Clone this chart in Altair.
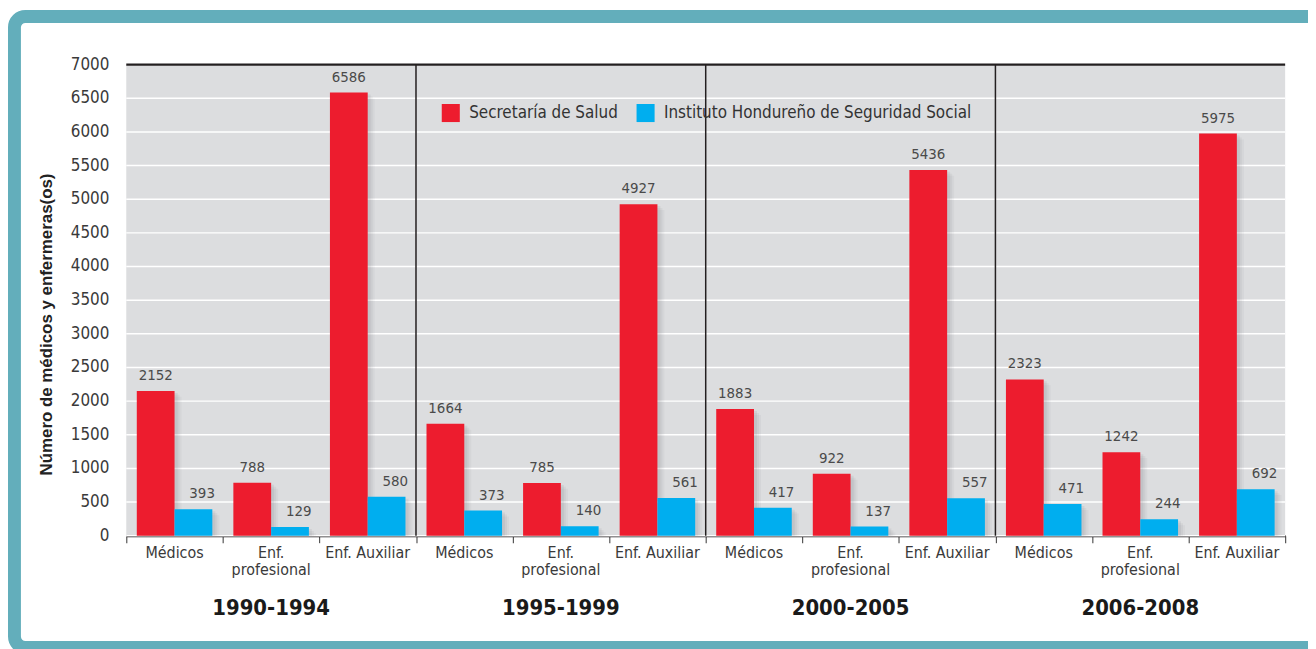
import altair as alt
import pandas as pd

periods = ["1990-1994", "1995-1999", "2000-2005", "2006-2008"]
categories = ["Médicos", "Enf.\nprofesional", "Enf. Auxiliar"]
series = ["Secretaría de Salud", "Instituto Hondureño de Seguridad Social"]
secretaria = [2152, 788, 6586, 1664, 785, 4927, 1883, 922, 5436, 2323, 1242, 5975]
ihss = [393, 129, 580, 373, 140, 561, 417, 137, 557, 471, 244, 692]
y_ticks = list(range(0, 7001, 500))

RED = "#ED1C2E"
BLUE = "#00AEEF"
TEAL = "#63AEBB"
PLOT_BG = "#DCDDDF"
FONT = "Liberation Sans Narrow, DejaVu Sans Condensed, Liberation Sans, sans-serif"
BOLD_FONT = "Liberation Sans, Open Sans, sans-serif"

W, H = 1166, 474
BAR_W = 38 / (W / 12)

rows = []
for i in range(12):
    c = i + 0.5
    rows.append({"serie": series[0], "x0": c - BAR_W, "x1": c, "lx": c - BAR_W / 2,
                 "value": secretaria[i]})
    rows.append({"serie": series[1], "x0": c, "x1": c + BAR_W, "lx": c + BAR_W / 2 + 0.09,
                 "value": ihss[i]})
df = pd.DataFrame(rows)

cat_df = pd.DataFrame({"pos": [i + 0.5 for i in range(12)],
                       "label": [categories[i % 3] for i in range(12)]})
per_df = pd.DataFrame({"pos": [3 * j + 1.5 for j in range(4)], "label": periods})
sep_df = pd.DataFrame({"pos": [3, 6, 9]})
top_df = pd.DataFrame({"v": [7000]})
tick_df = pd.DataFrame({"tick": y_ticks, "txt": [str(t) for t in y_ticks]})

xscale = alt.Scale(domain=[0, 12], nice=False, zero=False)
yscale = alt.Scale(domain=[0, 7000], nice=False)

XAXIS = alt.Axis(values=list(range(13)), labels=False, title=None,
                 grid=False, domainColor="#231F20", domainWidth=2, tickColor="#555",
                 tickSize=7, tickWidth=1.2)
YAXIS = alt.Axis(domain=False, ticks=False, labels=False, grid=False,
                 title="Número de médicos y enfermeras(os)",
                 titleFont=BOLD_FONT, titleFontSize=17, titleFontWeight="bold",
                 titleColor="#222", titleAngle=270, titleX=-80, titleY=261,
                 titleAlign="center", titleBaseline="middle")


def X(field):
    return alt.X(field, scale=xscale, axis=XAXIS)


def Y(field):
    return alt.Y(field, scale=yscale, axis=YAXIS)


grid = alt.Chart(tick_df).mark_rule(color="white", strokeWidth=1.5).encode(
    y=Y("tick:Q"), x=alt.datum(0), x2=alt.datum(12))

ylabels = alt.Chart(tick_df).mark_text(font=FONT, fontSize=17, color="#3a3a3a",
                                       align="right", baseline="middle", dx=-17).encode(
    y=Y("tick:Q"), x=alt.datum(0), text="txt:N")

base = alt.Chart(df)

shadow_layers = []
for dxo, op in [(3, 0.10), (5, 0.08), (7, 0.06)]:
    shadow_layers.append(base.mark_bar(clip=False, color="#6d6e71", opacity=op,
                                       xOffset=dxo, x2Offset=dxo, yOffset=dxo - 1).encode(
        x=X("x0:Q"), x2="x1:Q", y=Y("value:Q"), y2=alt.datum(0)))

bars = base.mark_bar(clip=False).encode(
    x=X("x0:Q"), x2="x1:Q", y=Y("value:Q"), y2=alt.datum(0),
    color=alt.Color("serie:N", scale=alt.Scale(domain=series, range=[RED, BLUE]),
                    legend=alt.Legend(orient="none", legendX=317, legendY=39,
                                      direction="horizontal", title=None,
                                      symbolType="square", symbolSize=330,
                                      symbolStrokeWidth=0, symbolOpacity=1,
                                      labelFont=FONT, labelFontSize=17, labelLimit=500,
                                      labelColor="#333", labelOffset=9,
                                      columnPadding=18)),
)

labels = base.mark_text(font=FONT, fontSize=15, color="#4a4a4a", baseline="bottom",
                        dy=-8).encode(
    x=X("lx:Q"), y=Y("value:Q"), text=alt.Text("value:Q", format="d"))

seps = alt.Chart(sep_df).mark_rule(color="#231F20", strokeWidth=1.5).encode(
    x=X("pos:Q"), y=alt.datum(0), y2=alt.datum(7000))

top = alt.Chart(top_df).mark_rule(color="#231F20", strokeWidth=2.5).encode(
    y=Y("v:Q"), x=alt.datum(0), x2=alt.datum(12))

cats = alt.Chart(cat_df).mark_text(font=FONT, fontSize=16, color="#3a3a3a",
                                   baseline="top", dy=9, lineBreak="\n",
                                   lineHeight=18).encode(
    x=X("pos:Q"), y=alt.datum(0), text="label:N")

pers = alt.Chart(per_df).mark_text(font=FONT, fontSize=22, fontWeight="bold",
                                   color="#1a1a1a", baseline="middle", dy=73).encode(
    x=X("pos:Q"), y=alt.datum(0), text="label:N")

frame = alt.Chart(pd.DataFrame({"a": [0]})).mark_rect(
    fillOpacity=0, stroke=TEAL, strokeWidth=13, cornerRadius=11, clip=False).encode(
    x=alt.value(-112.5), x2=alt.value(1203), y=alt.value(-48.5), y2=alt.value(586.5))

chart = alt.layer(grid, ylabels, *shadow_layers, bars, labels, seps, top, cats, pers,
                  frame).properties(
    width=W, height=H,
    autosize=alt.AutoSizeParams(type="none"),
    padding={"left": 119, "top": 55, "right": 23, "bottom": 112},
    background="white",
).configure_view(fill=PLOT_BG, stroke=None)

chart.save("out.html", embed_options={"renderer": "svg", "actions": False})
